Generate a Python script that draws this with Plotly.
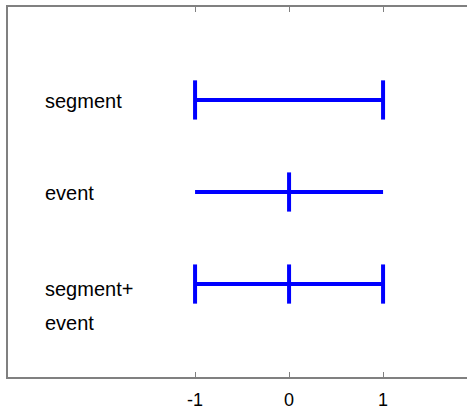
import plotly.graph_objects as go

# Data
labels = ["segment", "event", "segment+\nevent"]
row_pos = [3, 2, 1]
seg_start = [-1, -1, -1]
seg_end = [1, 1, 1]
tick_marks = [[-1, 1], [0], [-1, 0, 1]]
x_ticks = [-1, 0, 1]
x_tick_labels = ["-1", "0", "1"]

BLUE = "#0000ff"
fig = go.Figure()

# horizontal lines
lx, ly = [], []
for y, s, e in zip(row_pos, seg_start, seg_end):
    lx += [s, e, None]
    ly += [y, y, None]
fig.add_trace(go.Scatter(x=lx, y=ly, mode="lines",
                         line=dict(color=BLUE, width=4), hoverinfo="skip"))

# vertical tick marks
mx, my = [], []
for y, ticks in zip(row_pos, tick_marks):
    for t in ticks:
        mx.append(t)
        my.append(y)
fig.add_trace(go.Scatter(x=mx, y=my, mode="markers",
                         marker=dict(symbol="line-ns-open", size=28, color=BLUE,
                                     line=dict(color=BLUE, width=4)),
                         hoverinfo="skip"))

# row labels
for y, lab in zip(row_pos, labels):
    lines = lab.split("\n")
    for i, ln in enumerate(lines):
        shift = -1 if len(lines) == 1 else -(5 + 34 * i)
        fig.add_annotation(x=-2.62, y=y, text=ln, showarrow=False,
                           xanchor="left", yanchor="middle", yshift=shift,
                           font=dict(family="Liberation Sans, Arial", size=20, color="black"))

fig.update_layout(
    width=467, height=412,
    margin=dict(l=8, r=0, t=7, b=35),
    paper_bgcolor="white", plot_bgcolor="white",
    showlegend=False,
    font=dict(family="Liberation Sans, Arial", color="black"),
)
fig.update_xaxes(range=[-2.99, 1.893], tickvals=x_ticks, ticktext=x_tick_labels,
                 ticks="inside", ticklen=5, tickcolor="#808080", tickwidth=1,
                 showline=True, linecolor="#808080", linewidth=1.5, mirror="ticks",
                 showgrid=False, zeroline=False, ticklabelstandoff=6,
                 tickfont=dict(size=18, color="black", family="Liberation Sans, Arial"))
fig.update_yaxes(range=[-0.01, 4.01], showticklabels=False, ticks="",
                 showline=True, linecolor="#808080", linewidth=1.5, mirror=False,
                 showgrid=False, zeroline=False)

fig.write_html("out.html", config={"displayModeBar": False},
               post_script="document.body.style.margin='0px';document.body.style.overflow='hidden';")
